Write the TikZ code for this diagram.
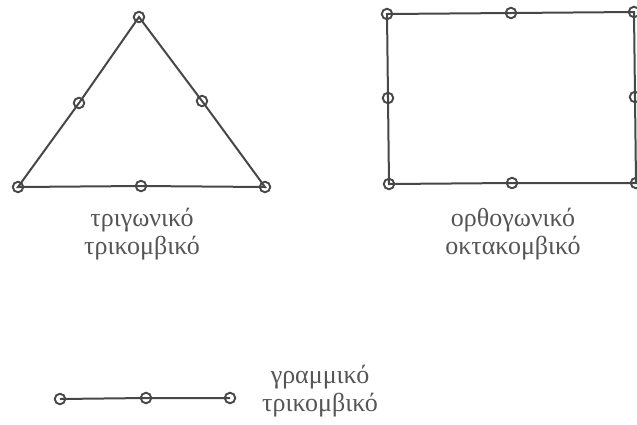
\documentclass[tikz,border=0pt]{standalone}
\usepackage{fontspec}
\setmainfont{Liberation Serif}
\definecolor{ink}{HTML}{474747}
\definecolor{txt}{HTML}{555555}
\begin{document}
\begin{tikzpicture}[x=1pt,y=-1pt,
  knot/.style={circle,draw=ink,line width=1.9pt,minimum size=10.5pt,inner sep=0pt},
  edge/.style={draw=ink,line width=2pt},
  lbl/.style={text=txt,font=\fontsize{26}{27.5}\selectfont,align=center,inner sep=0pt}]
\useasboundingbox (0,0) rectangle (637,424);
\clip (0,0) rectangle (637,424);
% triangle
\coordinate (t1) at (139,17);
\coordinate (t2) at (18,187);
\coordinate (t3) at (265,187);
\coordinate (t12) at (79,103);
\coordinate (t13) at (202,101);
\coordinate (t23) at (141,186);
\draw[edge] (t1) -- (t12) -- (t2) -- (t23) -- (t3) -- (t13) -- cycle;
\foreach \p in {t1,t2,t3,t12,t13,t23} \node[knot] (n\p) at (\p) {};
\node[lbl] (l1) at (142,234) {τριγωνικό\\τρικομβικό};
% rectangle
\coordinate (r1) at (387,14);
\coordinate (r2) at (511,13);
\coordinate (r3) at (634,12);
\coordinate (r4) at (635,97);
\coordinate (r5) at (636,183);
\coordinate (r6) at (512,183);
\coordinate (r7) at (389,184);
\coordinate (r8) at (388,98);
\draw[edge] (r1) -- (r2) -- (r3) -- (r4) -- (r5) -- (r6) -- (r7) -- (r8) -- cycle;
\foreach \p in {r1,r2,r3,r4,r5,r6,r7,r8} \node[knot] (n\p) at (\p) {};
\node[lbl] (l2) at (513,234) {ορθογωνικό\\οκτακομβικό};
% line
\coordinate (g1) at (60,399);
\coordinate (g2) at (146,398);
\coordinate (g3) at (230,398);
\draw[edge] (g1) -- (g2) -- (g3);
\foreach \p in {g1,g2,g3} \node[knot] (n\p) at (\p) {};
\node[lbl] (l3) at (320,391) {γραμμικό\\τρικομβικό};
\end{tikzpicture}
\end{document}
